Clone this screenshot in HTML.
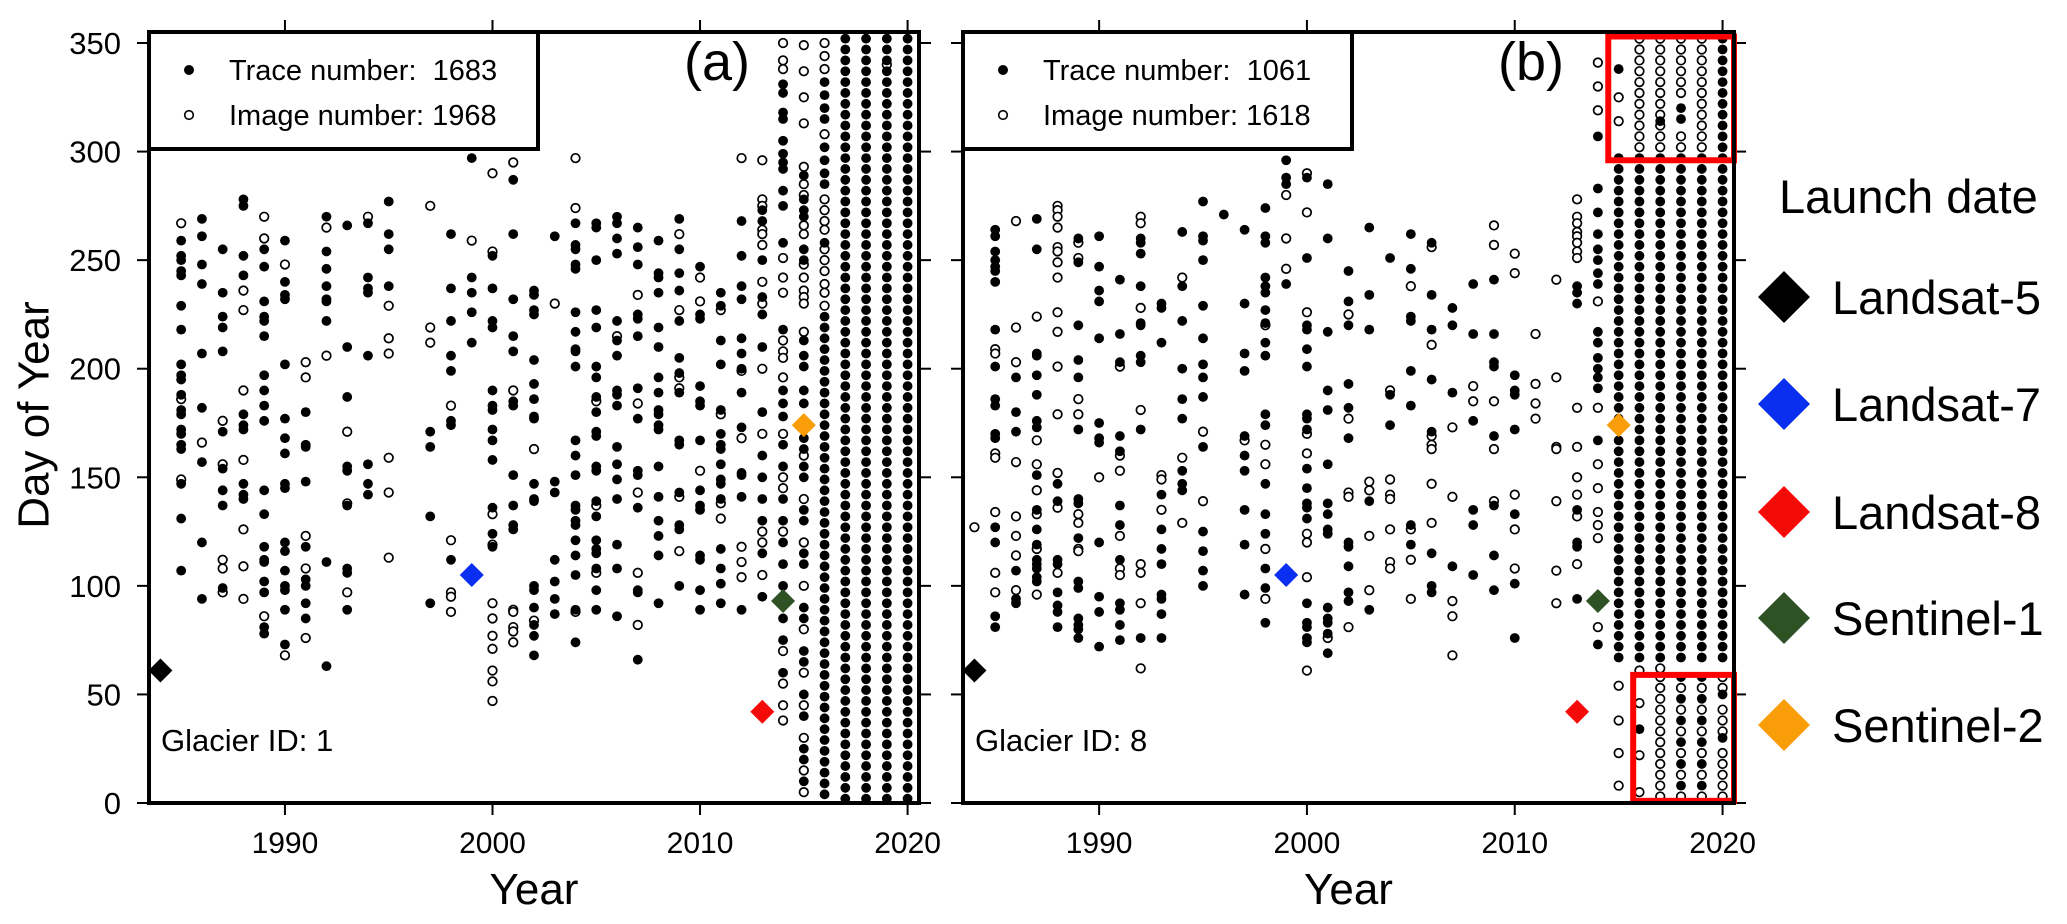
<!DOCTYPE html>
<html><head><meta charset="utf-8"><style>
html,body{margin:0;padding:0;background:#fff;}
svg{display:block;font-family:"Liberation Sans",Arial,sans-serif;}
</style></head><body>
<svg id="chart" width="2067" height="924" viewBox="0 0 2067 924" xmlns="http://www.w3.org/2000/svg">
<rect width="2067" height="924" fill="#fff"/>
<g id="panelA"></g>
<g id="panelB"></g>
<text x="34" y="415" font-size="44" text-anchor="middle" transform="rotate(-90 34 415)" dominant-baseline="central">Day of Year</text>
<g>
<text x="1779" y="213" font-size="47">Launch date</text>
<g><path d="M1758 297 L1784 271 L1810 297 L1784 323 Z" fill="#000"/><text x="1832" y="314" font-size="47">Landsat-5</text></g>
<g><path d="M1758 404 L1784 378 L1810 404 L1784 430 Z" fill="#0a2ff0"/><text x="1832" y="421" font-size="47">Landsat-7</text></g>
<g><path d="M1758 512 L1784 486 L1810 512 L1784 538 Z" fill="#f50a0a"/><text x="1832" y="529" font-size="47">Landsat-8</text></g>
<g><path d="M1758 618 L1784 592 L1810 618 L1784 644 Z" fill="#2f5224"/><text x="1832" y="635" font-size="47">Sentinel-1</text></g>
<g><path d="M1758 725 L1784 699 L1810 725 L1784 751 Z" fill="#f99d09"/><text x="1832" y="742" font-size="47">Sentinel-2</text></g>
</g>
</svg>
<script>
// ---------- shared axis data ----------
const yTicks = [0,50,100,150,200,250,300,350];
const xTicks = [1990,2000,2010,2020];
const launchNames = ["Landsat-5","Landsat-7","Landsat-8","Sentinel-1","Sentinel-2"];
const launchYears = [1984,1999,2013,2014,2015];
const launchDays = [61,105,42,93,174];
const launchColors = ["#000","#0a2ff0","#f50a0a","#2f5224","#f99d09"];
const DENSE = [2,7,12,17,22,27,32,37,42,47,52,57,62,67,72,77,82,87,92,97,102,107,112,117,122,127,132,137,142,147,152,157,162,167,172,177,182,187,192,197,202,207,212,217,222,227,232,237,242,247,252,257,262,267,272,277,282,287,292,297,302,307,312,317,322,327,332,337,342,347,352];
const MID = [67,72,77,82,87,92,97,102,107,112,117,122,127,132,137,142,147,152,157,162,167,172,177,182,187,192,197,202,207,212,217,222,227,232,237,242,247,252,257,262,267,272,277,282,287,292,297];
const TOP = [302,307,312,317,322,327,332,337,342,347,352];
const BOT = [3,8,13,18,23,28,33,38,43,48,53,58,62];

// ---------- panel (a) Glacier 1 ----------
const aTrace = {
1985:[259,252,250,245,243,229,218,202,197,195,188,181,179,172,170,165,163,147,131,107],
1986:[269,261,248,239,207,182,157,120,94],
1987:[255,235,224,219,208,171,154,144,137,99],
1988:[278,275,252,243,179,174,172,147,142,140],
1989:[255,247,231,224,222,215,197,190,183,176,144,133,118,112,111,102,97,81,78],
1990:[259,240,234,232,202,177,168,161,147,145,120,116,107,100,98,89,73],
1991:[180,165,164,148,118,103,100,92,85],
1992:[270,254,246,238,232,231,222,111,63],
1993:[266,210,187,155,153,137,108,106,89],
1994:[267,242,237,235,206,156,147,142],
1995:[277,262,255,238],
1997:[171,164,132,92],
1998:[262,237,222,206,199,176,174,112],
1999:[297,242,235,226,212],
2000:[252,237,222,219,190,183,181,172,167,158,136,124,118],
2001:[287,262,232,215,208,185,183,151,137,128,126],
2002:[236,234,227,225,204,193,186,178,177,147,140,139,100,98,90,82,77,68],
2003:[261,148,143,112,102,94,87],
2004:[267,257,255,248,246,226,217,209,208,201,167,160,151,137,135,130,128,121,114,105,89,74],
2005:[267,265,250,227,219,201,196,187,180,171,169,155,153,139,132,121,117,115,108,98,89],
2006:[270,267,260,253,222,213,206,190,188,183,164,156,149,140,119,108,86],
2007:[265,256,248,225,223,215,191,177,153,151,136,98,97,66],
2008:[259,244,242,235,219,210,196,189,181,179,174,172,155,141,130,123,114,92],
2009:[269,255,244,236,222,205,198,189,167,165,143,128,126,100],
2010:[247,225,223,192,185,183,167,144,137,135,114,112,98,89],
2011:[235,229,213,202,181,170,165,163,156,149,147,140,117,108,101,92],
2012:[268,252,238,232,214,207,200,189,173,152,151,141,89],
2013:[273,268,250,233,225,210,180,160,150,140,130,115,95],
2014:[331,327,318,315,305,299,295,292,282,275,258,218,190,184,178,165,155,140,130,120,110,100,85,75,60],
2015:[289,278,273,270,255,250,213,206,201,190,184,168,163,155,150,135,130,115,110,90,85,70,65,50,40,25,20,10],
2016:[332,326,320,315,302,296,290,285,258,224,219,214,209,204,199,194,189,184,179,174,169,164,159,154,149,144,139,134,129,124,119,114,109,104,99,94,89,84,79,74,69,64,59,54,49,44,39,34,29,24,19,14,9,4],
2017:DENSE, 2018:DENSE, 2019:DENSE, 2020:DENSE
};
const aImage = {
1985:[267,186,149],
1986:[166],
1987:[176,156,112,108,97],
1988:[236,227,190,158,126,109,94],
1989:[270,260,86],
1990:[248,68],
1991:[203,196,123,108,76],
1992:[265,206],
1993:[171,138,97],
1994:[270],
1995:[229,214,207,159,143,113],
1997:[275,219,212],
1998:[183,121,97,95,88],
1999:[259],
2000:[290,254,133,119,92,85,77,71,61,56,47],
2001:[295,190,89,88,81,79,74],
2002:[163,84],
2003:[230],
2004:[297,274,88],
2005:[185,137,106],
2006:[215],
2007:[234,184,143,106,82],
2008:[],
2009:[262,227,196,191,141,116],
2010:[242,231,153],
2011:[227,179,138,131],
2012:[297,199,168,118,111,104],
2013:[296,278,275,264,262,257,240,230,200,170,125,120,105],
2014:[350,342,338,251,242,235,213,208,205,196,170,150,145,125,95,70,55,45,38],
2015:[349,337,325,313,293,285,280,266,262,248,242,236,233,230,217,160,140,120,100,80,60,45,30,15,5],
2016:[350,344,338,308,278,273,268,264,255,250,245,239,235,229],
2019:[340]
};

// ---------- panel (b) Glacier 8 ----------
const bTrace = {
1985:[264,261,254,250,247,245,240,218,201,186,183,170,168,127,120,86,81],
1986:[196,180,171,107,94,92],
1987:[269,255,207,206,197,188,176,173,151,135,126,119,112,110,108,104,102],
1988:[147,139,112,110,97,91,88,81],
1989:[260,249,220,204,196,172,140,138,122,102,99,85,82,80,76],
1990:[261,247,236,231,214,175,168,166,120,95,88,72],
1991:[241,216,203,169,162,137,128,112,92,89,82,75],
1992:[260,258,253,238,221,220,206,203,172,76],
1993:[230,228,212,142,126,117,110,96,94,87,76],
1994:[263,238,222,200,186,177,153,147,144],
1995:[277,261,259,250,229,214,202,196,187,164,125,116,107,100],
1996:[271],
1997:[264,230,207,199,169,160,153,135,119,96],
1998:[274,261,258,242,238,235,227,221,212,206,179,174,147,133,124,108,99,83],
1999:[296,288,285,239],
2000:[288,251,220,218,209,201,179,177,172,154,145,138,136,131,92,83,81,76,74],
2001:[285,260,217,190,181,156,138,133,126,124,90,85,83,78,69],
2002:[245,231,220,193,182,168,120,118,109,97,93],
2003:[265,234,218,139,89],
2004:[251,188,174],
2005:[262,246,224,222,199,183,128,119],
2006:[258,234,218,195,171,115,100,97],
2007:[228,220,189,109],
2008:[239,216,176,135,128,105],
2009:[241,216,203,201,169,137,114,98],
2010:[197,190,188,172,133,101,76],
2013:[238,235,230,135,120,118,94],
2014:[307,283,272,262,255,250,244,239,217,212,205,200,196,191,167,73],
2015:MID.concat([338]),
2016:MID.concat([34]),
2017:MID.concat([314]),
2018:MID.concat([320,315,58,48,38,28,18,8]),
2019:MID.concat([58,48,38,28,18,8]),
2020:TOP.concat(MID,[50,30])
};
const bImage = {
1984:[127],
1985:[209,207,161,159,134,106,97],
1986:[268,219,203,157,132,123,114,98],
1987:[224,167,156,144,133,117,96],
1988:[275,273,270,265,256,254,249,242,226,217,201,179,152,136,106],
1989:[258,251,186,179,133,129,117,116],
1990:[150],
1991:[201,160,153,123,108,105],
1992:[270,267,228,181,110,106,92,62],
1993:[151,149,135],
1994:[242,159,129],
1995:[171,139],
1997:[167],
1998:[220,165,156,117,94],
1999:[280,260,246],
2000:[290,272,226,170,161,124,120,104,61],
2001:[76],
2002:[225,177,143,141,81],
2003:[148,144,123,98],
2004:[190,149,142,140,126,111,108],
2005:[238,126,112,94],
2006:[256,211,169,165,163,147,129],
2007:[173,141,93,86,68],
2008:[192,185],
2009:[266,257,185,163,139],
2010:[253,244,142,126,108],
2011:[216,193,184,177],
2012:[241,196,164,163,139,107,92],
2013:[278,270,267,263,261,258,254,251,182,164,150,142,132,110],
2014:[341,330,319,231,182,156,145,134,128,122,81],
2015:[325,314,54,38,23,8],
2016:TOP.concat([61,46,22,5]),
2017:TOP.concat(BOT),
2018:[352,347,342,337,332,327,307,302,53,43,33,23,13,3],
2019:TOP.concat([53,43,33,23,13,3]),
2020:[58,53,43,38,33,23,18,13,8,3]
};

// ---------- drawing ----------
const NS = "http://www.w3.org/2000/svg";
const Y0 = 803, PXD = 2.1714, YTOP = 32, XMIN = 1983.45, XMAX = 2020.55;
function yS(d){ return Y0 - d*PXD; }
function mk(tag, attrs, parent){
  const e = document.createElementNS(NS, tag);
  for (const k in attrs) e.setAttribute(k, attrs[k]);
  parent.appendChild(e); return e;
}
function drawPanel(g, left, right, trace, image, label, glacier, counts, showYLabels, redBoxes){
  const xS = y => left + (y - XMIN) * (right - left) / (XMAX - XMIN);
  yTicks.forEach(t => {
    const yy = yS(t);
    const tl = mk("line", {x1:left-12, y1:yy, x2:left, y2:yy, stroke:"#000","stroke-width":2}, g);
    
    
    const tr = mk("line", {x1:right, y1:yy, x2:right+12, y2:yy, stroke:"#000","stroke-width":2}, g);
    
    
    if (showYLabels){
      const tx = mk("text", {x:left-28, y:yy+11, "font-size":31, "text-anchor":"end"}, g);
      tx.textContent = t;
      
      
    }
  });
  xTicks.forEach(t => {
    const xx = xS(t);
    const b = mk("line", {x1:xx, y1:Y0, x2:xx, y2:Y0+12, stroke:"#000","stroke-width":2}, g);
    
    
    const tp = mk("line", {x1:xx, y1:YTOP-12, x2:xx, y2:YTOP, stroke:"#000","stroke-width":2}, g);
    
    
    const tx = mk("text", {x:xx, y:853, "font-size":30, "text-anchor":"middle"}, g);
    tx.textContent = t;
    
    
  });
  const xt = mk("text", {x:(left+right)/2, y:904, "font-size":44, "text-anchor":"middle"}, g);
  xt.textContent = "Year";
  
  
  for (const yr in image){
    image[yr].forEach(d => {
      const c = mk("circle", {cx:xS(+yr), cy:yS(d), r:4.3, fill:"#fff", stroke:"#000","stroke-width":1.7}, g);
      
      
    });
  }
  for (const yr in trace){
    trace[yr].forEach(d => {
      const c = mk("circle", {cx:xS(+yr), cy:yS(d), r:4.9, fill:"#000"}, g);
      
      
    });
  }
  launchYears.forEach((yr, i) => {
    const cx = xS(yr), cy = yS(launchDays[i]);
    const p = mk("path", {d:`M${cx-12} ${cy} L${cx} ${cy-12} L${cx+12} ${cy} L${cx} ${cy+12} Z`, fill:launchColors[i]}, g);
    
    
  });
  redBoxes.forEach(bx => {
    const r = mk("rect", {x:xS(bx[0]), y:yS(bx[3]), width:xS(bx[1])-xS(bx[0]), height:yS(bx[2])-yS(bx[3]), fill:"none", stroke:"#f00","stroke-width":6}, g);
    
    
  });
  const fr = mk("rect", {x:left, y:YTOP, width:right-left, height:Y0-YTOP, fill:"none", stroke:"#000","stroke-width":4}, g);
  
  
  const lb = mk("rect", {x:left, y:YTOP, width:389, height:117, fill:"#fff", stroke:"#000","stroke-width":4}, g);
  
  
  const d1 = mk("circle", {cx:left+40, cy:70, r:5, fill:"#000"}, g);
  
  
  const d2 = mk("circle", {cx:left+40, cy:115, r:4.3, fill:"#fff", stroke:"#000","stroke-width":1.6}, g);
  
  
  const t1 = mk("text", {x:left+80, y:80, "font-size":29}, g);
  t1.textContent = "Trace number:  " + counts[0];
  
  
  t1.style.whiteSpace = "pre";
  const t2 = mk("text", {x:left+80, y:125, "font-size":29}, g);
  t2.textContent = "Image number: " + counts[1];
  
  
  const pl = mk("text", {x:left+568, y:80, "font-size":54, "text-anchor":"middle"}, g);
  pl.textContent = label;
  
  
  const gl = mk("text", {x:left+12, y:751, "font-size":31}, g);
  gl.textContent = glacier;
  
  
}
drawPanel(document.getElementById("panelA"), 149, 919, aTrace, aImage, "(a)", "Glacier ID: 1", [1683,1968], true, []);
drawPanel(document.getElementById("panelB"), 963, 1734, bTrace, bImage, "(b)", "Glacier ID: 8", [1061,1618], false,
  [[2014.5,2020.55,296,353],[2015.7,2020.55,1,59]]);
</script>
</body></html>
